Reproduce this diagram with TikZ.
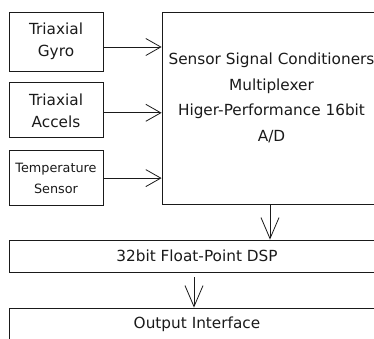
\documentclass[tikz,border=0pt]{standalone}
\usepackage{fontspec}
\setmainfont{DejaVu Sans}
\usepackage{xcolor}
\usetikzlibrary{arrows.meta,positioning}
\definecolor{lineDark}{HTML}{1A1A1A}

\begin{document}
\begin{tikzpicture}[
    x=1pt, y=1pt,
    font=\fontsize{15.3}{22}\selectfont,
    node distance=11pt and 59pt,
    sensor/.style={
        rectangle,
        draw=lineDark,
        line width=0.8pt,
        minimum width=94pt,
        align=center,
        inner sep=0pt,
        text=lineDark
    },
    block/.style={
        rectangle,
        draw=lineDark,
        line width=0.8pt,
        minimum width=376pt,
        minimum height=32pt,
        inner sep=0pt,
        text=lineDark
    },
    flow/.style={
        -{Straight Barb[length=15pt,width=17pt]},
        line width=0.8pt,
        draw=lineDark
    },
    downflow/.style={
        -{Straight Barb[length=21pt,width=18pt]},
        line width=0.8pt,
        draw=lineDark
    }
]
\useasboundingbox (0,0) rectangle (374,-338);
\clip (0,0) rectangle (374,-338);

% -------------------- Sensors -------------------------
\node[sensor, minimum height=59pt] (gyro) at (56,-41.5) {Triaxial\\Gyro};
\node[sensor, minimum height=55pt, below=of gyro] (accels) {Triaxial\\Accels};
\node[sensor, minimum height=55pt, below=12pt of accels,
      font=\fontsize{12.8}{21}\selectfont] (temp) {Temperature\\Sensor};

% -------------------- Conditioning / A/D ---------------
\node[rectangle, draw=lineDark, line width=0.8pt,
      minimum width=219pt, minimum height=192pt] (adc) at (271.5,-108) {};
\node[align=center, text=lineDark, font=\fontsize{15.3}{25.7}\selectfont]
      (adctext) at ([yshift=10pt]adc.center)
      {Sensor Signal Conditioners\\Multiplexer\\Higer-Performance 16bit\\A/D};

% -------------------- Processing / Output --------------
\node[block] (dsp) at (197,-256) {32bit Float-Point DSP};
\node[block] (output) at (197,-324) {Output Interface};

% -------------------- Flows ---------------------------
\draw[flow] ([yshift=-5.5pt]gyro.east) -- ([yshift=-5.5pt]gyro.east -| adc.west);
\draw[flow] ([yshift=-2.5pt]accels.east) -- ([yshift=-2.5pt]accels.east -| adc.west);
\draw[flow] (temp.east) -- (temp.east -| adc.west);
\draw[downflow] ([xshift=-1.5pt]adc.south) -- ([xshift=-1.5pt]adc.south |- dsp.north);
\draw[downflow] ([xshift=-3pt,yshift=-5pt]dsp.south) -- ([xshift=-3pt]output.north);

\end{tikzpicture}
\end{document}
